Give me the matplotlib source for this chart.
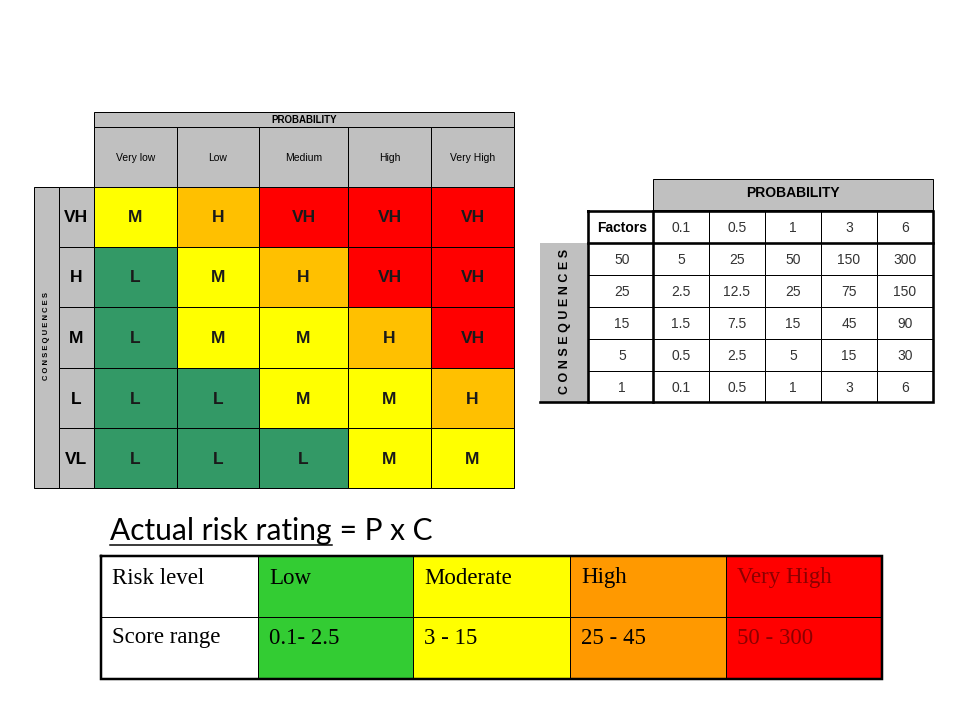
import matplotlib.pyplot as plt
from matplotlib.patches import Rectangle

# left matrix
prob_labels = ["Very low", "Low", "Medium", "High", "Very High"]
cons_labels = ["VH", "H", "M", "L", "VL"]
ratings = [["M", "H", "VH", "VH", "VH"],
           ["L", "M", "H", "VH", "VH"],
           ["L", "M", "M", "H", "VH"],
           ["L", "L", "M", "M", "H"],
           ["L", "L", "L", "M", "M"]]
rating_colors = {"L": "#339966", "M": "#ffff00", "H": "#ffc000", "VH": "#ff0000"}

# right table
prob_factors = ["0.1", "0.5", "1", "3", "6"]
cons_factors = ["50", "25", "15", "5", "1"]
scores = [["5", "25", "50", "150", "300"],
          ["2.5", "12.5", "25", "75", "150"],
          ["1.5", "7.5", "15", "45", "90"],
          ["0.5", "2.5", "5", "15", "30"],
          ["0.1", "0.5", "1", "3", "6"]]

# bottom table
levels = ["Low", "Moderate", "High", "Very High"]
ranges = ["0.1- 2.5", "3 - 15", "25 - 45", "50 - 300"]
level_colors = ["#33cc33", "#ffff00", "#ff9900", "#ff0000"]

GRAY = "#c0c0c0"
PX = 0.72  # one pixel in points

fig = plt.figure(figsize=(9.6, 7.2), dpi=100)
ax = fig.add_axes([0, 0, 1, 1])
ax.set_xlim(0, 960)
ax.set_ylim(720, 0)
ax.axis("off")


def box(x0, y0, x1, y1, fc, lw=1.0, ec="black", z=1):
    ax.add_patch(Rectangle((x0, y0), x1 - x0, y1 - y0, facecolor=fc,
                           edgecolor=ec, linewidth=lw * PX, zorder=z))


# ---- left risk matrix ----
lx = [94, 177, 259, 348, 431, 514]
ly = [187, 247, 307, 368, 428, 488]
box(94, 112, 514, 127, GRAY)
ax.text(304, 120, "PROBABILITY", ha="center", va="center", fontsize=7,
        fontweight="bold", family="Liberation Sans")
for j, lab in enumerate(prob_labels):
    box(lx[j], 127, lx[j + 1], 187, GRAY)
    ax.text((lx[j] + lx[j + 1]) / 2, 158, lab, ha="center", va="center",
            fontsize=7.5, family="Liberation Sans")
box(34, 187, 59, 488, GRAY)
ax.text(46, 336, "C O N S E Q U E N C E S", rotation=90, ha="center",
        va="center", fontsize=5.5, fontweight="bold", family="Liberation Sans")
for i, lab in enumerate(cons_labels):
    box(59, ly[i], 94, ly[i + 1], GRAY)
    ax.text(76, (ly[i] + ly[i + 1]) / 2 + 1, lab, ha="center", va="center",
            fontsize=12.5, fontweight="bold", family="Liberation Sans")
    for j in range(5):
        r = ratings[i][j]
        box(lx[j], ly[i], lx[j + 1], ly[i + 1], rating_colors[r])
        ax.text((lx[j] + lx[j + 1]) / 2, (ly[i] + ly[i + 1]) / 2 + 1, r,
                ha="center", va="center", fontsize=12.5, fontweight="bold",
                family="Liberation Sans", color="#1a1a1a")

# ---- right factor table ----
rx = [653, 709, 765, 821, 877, 933]
ry = [243, 275, 307, 339, 371, 402]
box(653, 179, 933, 210, GRAY)
ax.text(793, 193, "PROBABILITY", ha="center", va="center", fontsize=10,
        fontweight="bold", family="Liberation Sans")
box(540, 243, 588, 403, GRAY, lw=0)
ax.text(565, 321, "C O N S E Q U E N C E S", rotation=90, ha="center",
        va="center", fontsize=9, fontweight="bold", family="Liberation Sans")
box(588, 211, 653, 243, "white", lw=0)
ax.text(622, 228, "Factors", ha="center", va="center", fontsize=10,
        fontweight="bold", family="Liberation Sans")
for j, f in enumerate(prob_factors):
    box(rx[j], 211, rx[j + 1], 243, "white")
    ax.text((rx[j] + rx[j + 1]) / 2, 228, f, ha="center", va="center",
            fontsize=10, family="Liberation Sans", color="#333333")
for i, c in enumerate(cons_factors):
    box(588, ry[i], 653, ry[i + 1], "white")
    ax.text(622, (ry[i] + ry[i + 1]) / 2 + 1, c, ha="center", va="center",
            fontsize=10, family="Liberation Sans", color="#333333")
    for j in range(5):
        box(rx[j], ry[i], rx[j + 1], ry[i + 1], "white")
        ax.text((rx[j] + rx[j + 1]) / 2, (ry[i] + ry[i + 1]) / 2 + 1,
                scores[i][j], ha="center", va="center", fontsize=10,
                family="Liberation Sans", color="#333333")
# thick borders
tk = 2.6 * PX
ax.plot([588, 933, 933, 588, 588], [211, 211, 402, 402, 211], color="black",
        lw=tk, zorder=3, solid_joinstyle="miter")
ax.plot([588, 933], [243, 243], color="black", lw=tk, zorder=3)
ax.plot([653, 653], [211, 402], color="black", lw=tk, zorder=3)
ax.plot([540, 588], [402, 402], color="black", lw=tk, zorder=3)

# ---- bottom risk level table ----
t = ax.text(110, 531, "Actual risk rating", ha="left", va="center",
            fontsize=21.5, family="Lato")
fig.canvas.draw()
bb = t.get_window_extent().transformed(ax.transData.inverted())
x_end = max(bb.x0, bb.x1)
ax.text(x_end, 531, " = P x C", ha="left", va="center", fontsize=21.5,
        family="Lato")
ax.plot([110, x_end], [545, 545], color="black", lw=1.5 * PX)

bx = [101, 258, 413, 570, 726, 882]
by = [556, 617, 679]
box(bx[0], by[0], bx[1], by[1], "white")
box(bx[0], by[1], bx[1], by[2], "white")
ax.text(bx[0] + 11, 578, "Risk level", ha="left", va="center", fontsize=16.5,
        family="Liberation Serif")
ax.text(bx[0] + 11, 638, "Score range", ha="left", va="center",
        fontsize=16.5, family="Liberation Serif")
for j in range(4):
    tc = "#8b0000" if j == 3 else "black"
    box(bx[j + 1], by[0], bx[j + 2], by[1], level_colors[j])
    box(bx[j + 1], by[1], bx[j + 2], by[2], level_colors[j])
    ax.text(bx[j + 1] + 11, 578, levels[j], ha="left", va="center",
            fontsize=16.5, family="Liberation Serif", color=tc)
    ax.text(bx[j + 1] + 11, 638, ranges[j], ha="left", va="center",
            fontsize=16.5, family="Liberation Serif", color=tc)
ax.plot([bx[0], bx[-1], bx[-1], bx[0], bx[0]],
        [by[0], by[0], by[2], by[2], by[0]], color="black", lw=2.5 * PX,
        zorder=3, solid_joinstyle="miter")

fig.savefig("out.png", dpi=100)
